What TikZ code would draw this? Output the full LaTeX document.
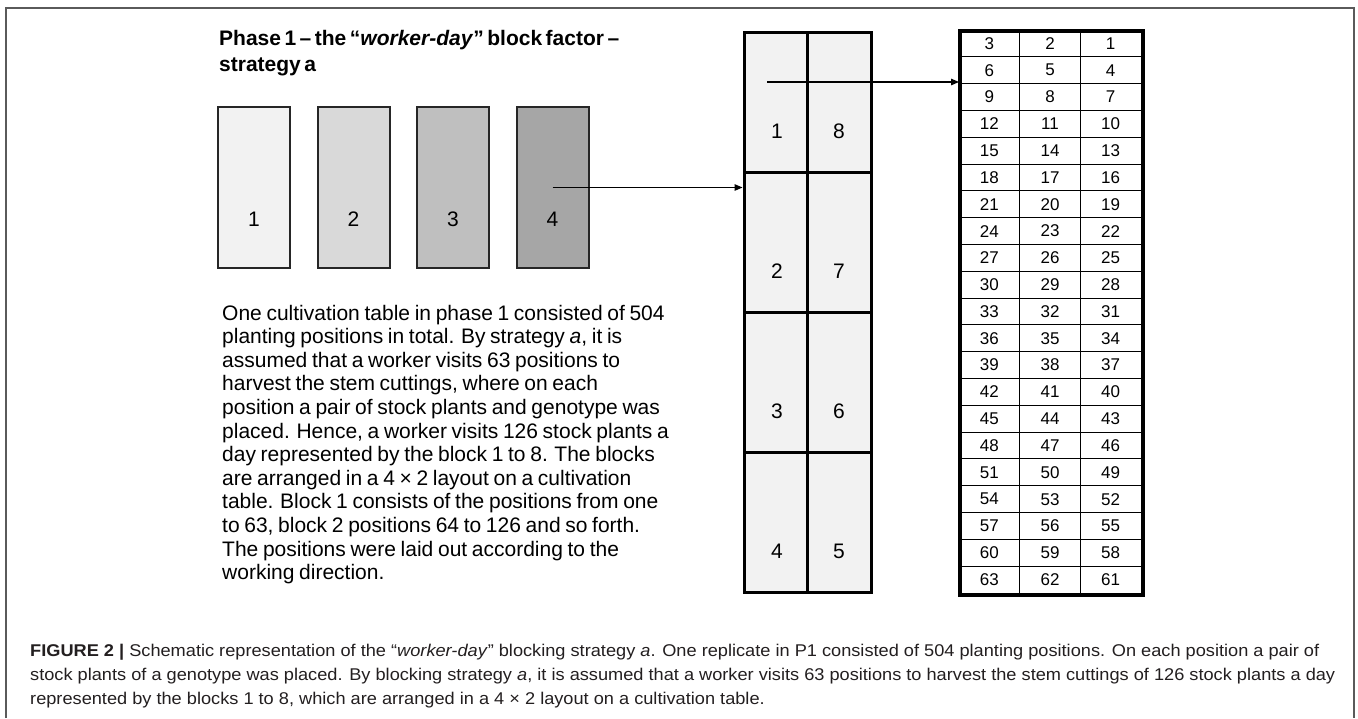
\documentclass[tikz,border=0pt]{standalone}
\usepackage{fontspec}
\setmainfont{Liberation Sans}[WordSpace=0.8]
\newfontfamily\headfont{Liberation Sans}[WordSpace=0.6]
\newfontfamily\capfont{Liberation Sans}[FakeStretch=1.07]
\usetikzlibrary{arrows.meta,calc}

\definecolor{shadeA}{HTML}{F2F2F2}
\definecolor{shadeB}{HTML}{D9D9D9}
\definecolor{shadeC}{HTML}{BFBFBF}
\definecolor{shadeD}{HTML}{A6A6A6}
\definecolor{framegray}{HTML}{5A5A5A}
\definecolor{captext}{HTML}{231F20}

\tikzset{
  blockbox/.style={draw=black!85, line width=2pt, minimum width=72pt,
    minimum height=161pt, inner sep=0pt},
  gridcell/.style={draw=black, line width=3pt, fill=shadeA,
    minimum width=63.5pt, minimum height=140pt, inner sep=0pt},
  tcell/.style={draw=black, line width=1pt, minimum width=60.67pt,
    minimum height=26.81pt, inner sep=0pt, font=\fontsize{17}{17}\selectfont},
  bignum/.style={inner sep=0pt, font=\fontsize{21}{21}\selectfont},
  flowarrow/.style={line width=1.3pt, -{Triangle[length=8pt,width=6.5pt]}},
  bodyline/.style={anchor=base west, inner sep=0pt,
    font=\fontsize{21}{23.6}\selectfont},
  titleline/.style={anchor=base west, inner sep=0pt,
    font=\headfont\bfseries\fontsize{21}{27}\selectfont},
  capline/.style={anchor=base west, inner sep=0pt, text=captext,
    font=\capfont\fontsize{17}{24}\selectfont}
}

\begin{document}
\begin{tikzpicture}[x=1pt,y=-1pt]
\useasboundingbox (0,0) rectangle (1358,718);
\fill[white] (0,0) rectangle (1358,718);

% open frame round the figure
\draw[framegray, line width=1.5pt] (6,718) -- (6,8) -- (1354,8) -- (1354,718);

% heading
\node[titleline] (head1) at (219,45) {Phase 1 – the “\textit{worker-day}” block factor –};
\node[titleline] (head2) at (219,71) {strategy a};

% the four worker-day blocks
\node[blockbox, fill=shadeA] (b1) at (254,187.5) {};
\node[blockbox, fill=shadeB] (b2) at (353.5,187.5) {};
\node[blockbox, fill=shadeC] (b3) at (453,187.5) {};
\node[blockbox, fill=shadeD] (b4) at (552.5,187.5) {};
\foreach \k in {1,...,4}
  \node[bignum] (bn\k) at ($(b\k.center)+(0,32)$) {\k};

% 4 x 2 layout on the cultivation table
\foreach \r/\lnum/\rnum in {0/1/8, 1/2/7, 2/3/6, 3/4/5} {
  \node[gridcell] (gl\r) at (775.75,{102+140*\r}) {};
  \node[gridcell] (gr\r) at (839.25,{102+140*\r}) {};
  \node[bignum] (gln\r) at (777,{131+140*\r}) {\lnum};
  \node[bignum] (grn\r) at (839,{131+140*\r}) {\rnum};
}

% positions within one block
\node[draw=black, line width=2.5pt, minimum width=182pt, minimum height=563pt,
  inner sep=0pt, anchor=north west] (tbl) at (959,30) {};
\foreach \r in {0,...,20}
  \foreach \c in {0,1,2} {
    \pgfmathtruncatemacro\num{3*\r+3-\c}
    \node[tcell] (t-\r-\c) at ({959+60.67*(\c+0.5)},{30+26.81*(\r+0.5)}) {\num};
  }
\draw[line width=2.5pt] (tbl.north west) rectangle (tbl.south east);

% arrows
\draw[flowarrow] (b4.center) -- (b4.center -| gl1.west);
\coordinate (start2) at (767,82);
\draw[flowarrow] (start2) -- (start2 -| tbl.west);

% explanatory paragraph
\foreach \t [count=\i] in {
  {One cultivation table in phase 1 consisted of 504},
  {planting positions in total. By strategy \textit{a}, it is},
  {assumed that a worker visits 63 positions to},
  {harvest the stem cuttings, where on each},
  {position a pair of stock plants and genotype was},
  {placed. Hence, a worker visits 126 stock plants a},
  {day represented by the block 1 to 8. The blocks},
  {are arranged in a 4 × 2 layout on a cultivation},
  {table. Block 1 consists of the positions from one},
  {to 63, block 2 positions 64 to 126 and so forth.},
  {The positions were laid out according to the},
  {working direction.}}
  \node[bodyline] (para\i) at (222,{320+23.6*(\i-1)}) {\t};

% caption
\foreach \t [count=\i] in {
  {\textbf{FIGURE 2 |} Schematic representation of the “\textit{worker-day}” blocking strategy \textit{a}. One replicate in P1 consisted of 504 planting positions. On each position a pair of},
  {stock plants of a genotype was placed. By blocking strategy \textit{a}, it is assumed that a worker visits 63 positions to harvest the stem cuttings of 126 stock plants a day},
  {represented by the blocks 1 to 8, which are arranged in a 4 × 2 layout on a cultivation table.}}
  \node[capline] (cap\i) at (30,{656+24*(\i-1)}) {\t};
\end{tikzpicture}
\end{document}
